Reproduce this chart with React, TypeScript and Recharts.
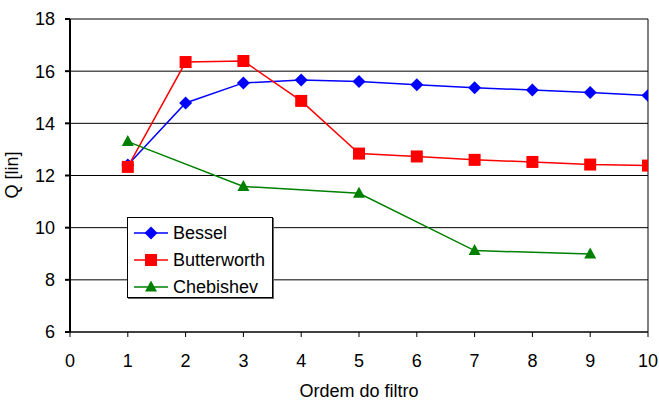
import React from "react";
import {
  CartesianGrid,
  Label,
  Line,
  LineChart,
  ReferenceLine,
  XAxis,
  YAxis,
} from "recharts";

const besselX = [1, 2, 3, 4, 5, 6, 7, 8, 9, 10];
const besselQ = [12.4, 14.78, 15.55, 15.66, 15.6, 15.48, 15.36, 15.28, 15.18, 15.07];

const butterX = [1, 2, 3, 4, 5, 6, 7, 8, 9, 10];
const butterQ = [12.33, 16.35, 16.39, 14.86, 12.84, 12.73, 12.6, 12.52, 12.42, 12.38];

const chebX = [1, 3, 5, 7, 9];
const chebQ = [13.3, 11.58, 11.32, 9.12, 8.99];

const xTicks = [0, 1, 2, 3, 4, 5, 6, 7, 8, 9, 10];
const yTicks = [6, 8, 10, 12, 14, 16, 18];

const bessel = besselX.map((x, i) => ({ x, q: besselQ[i] }));
const butterworth = butterX.map((x, i) => ({ x, q: butterQ[i] }));
const chebishev = chebX.map((x, i) => ({ x, q: chebQ[i] }));

const FONT = "'Liberation Sans', Arial, sans-serif";

function Diamond({ cx, cy, fill }: { cx: number; cy: number; fill: string }) {
  const r = 6.5;
  return (
    <path
      d={`M${cx},${cy - r} L${cx + r},${cy} L${cx},${cy + r} L${cx - r},${cy} Z`}
      fill={fill}
      stroke="none"
    />
  );
}

function Square({ cx, cy, fill }: { cx: number; cy: number; fill: string }) {
  const r = 6;
  return <rect x={cx - r} y={cy - r} width={r * 2} height={r * 2} fill={fill} />;
}

function Triangle({ cx, cy, fill }: { cx: number; cy: number; fill: string }) {
  const w = 6;
  return (
    <path
      d={`M${cx},${cy - 6.5} L${cx + w},${cy + 4.5} L${cx - w},${cy + 4.5} Z`}
      fill={fill}
    />
  );
}

const series = [
  { name: "Bessel", color: "#0000FF", Marker: Diamond },
  { name: "Butterworth", color: "#FF0000", Marker: Square },
  { name: "Chebishev", color: "#008000", Marker: Triangle },
];

// legend drawn as an overlay so it doesn't eat into the plot area
function LegendBox() {
  return (
    <div
      style={{
        position: "absolute",
        left: 127,
        top: 217,
        width: 144,
        height: 79,
        border: "1px solid #000",
        background: "#fff",
        fontFamily: FONT,
        fontSize: 18,
        color: "#000",
        boxShadow: "1px 1px 0 #666",
      }}
    >
      {series.map((s, i) => (
        <div
          key={s.name}
          style={{
            position: "absolute",
            left: 0,
            top: 3 + i * 27,
            height: 24,
            display: "flex",
            alignItems: "center",
            whiteSpace: "nowrap",
          }}
        >
          <svg width={44} height={24} style={{ display: "block" }}>
            <line x1={6} x2={40} y1={12} y2={12} stroke={s.color} strokeWidth={1.5} />
            <s.Marker cx={23} cy={12} fill={s.color} />
          </svg>
          <span style={{ marginLeft: 1 }}>{s.name}</span>
        </div>
      ))}
    </div>
  );
}

export default function App() {
  return (
    <div style={{ position: "absolute", left: 0, top: 0, width: 659, height: 400, background: "#fff" }}>
      <LineChart
        width={659}
        height={400}
        margin={{ top: 19, right: 11, bottom: 0, left: 0 }}
        style={{ fontFamily: FONT }}
      >
        <CartesianGrid horizontal vertical={false} stroke="#000" strokeWidth={1} />
        <XAxis
          type="number"
          dataKey="x"
          domain={[0, 10]}
          ticks={xTicks}
          interval={0}
          allowDataOverflow
          stroke="#000"
          tickSize={5}
          tickMargin={17}
          tick={{ fill: "#000", fontSize: 18 }}
          height={68}
        >
          <Label
            value="Ordem do filtro"
            position="insideBottom"
            offset={3}
            style={{ fill: "#000", fontSize: 18 }}
          />
        </XAxis>
        <YAxis
          type="number"
          dataKey="q"
          domain={[6, 18]}
          ticks={yTicks}
          interval={0}
          allowDataOverflow
          stroke="#000"
          strokeWidth={2}
          tickSize={5}
          tickMargin={10}
          tick={{ fill: "#000", fontSize: 18 }}
          width={70}
        >
          <Label
            content={() => (
              <text
                x={18}
                y={175}
                transform="rotate(-90 18 175)"
                textAnchor="middle"
                fill="#000"
                fontSize={18}
                fontFamily={FONT}
              >
                Q [lin]
              </text>
            )}
          />
        </YAxis>
        <ReferenceLine x={10} stroke="#000" strokeWidth={1} />
        <Line
          data={bessel}
          dataKey="q"
          name="Bessel"
          stroke="#0000FF"
          strokeWidth={1.5}
          isAnimationActive={false}
          dot={(p: any) => <Diamond key={`b${p.index}`} cx={p.cx} cy={p.cy} fill="#0000FF" />}
          activeDot={false}
        />
        <Line
          data={butterworth}
          dataKey="q"
          name="Butterworth"
          stroke="#FF0000"
          strokeWidth={1.5}
          isAnimationActive={false}
          dot={(p: any) => <Square key={`r${p.index}`} cx={p.cx} cy={p.cy} fill="#FF0000" />}
          activeDot={false}
        />
        <Line
          data={chebishev}
          dataKey="q"
          name="Chebishev"
          stroke="#008000"
          strokeWidth={1.5}
          isAnimationActive={false}
          dot={(p: any) => <Triangle key={`g${p.index}`} cx={p.cx} cy={p.cy} fill="#008000" />}
          activeDot={false}
        />
      </LineChart>
      <LegendBox />
    </div>
  );
}
